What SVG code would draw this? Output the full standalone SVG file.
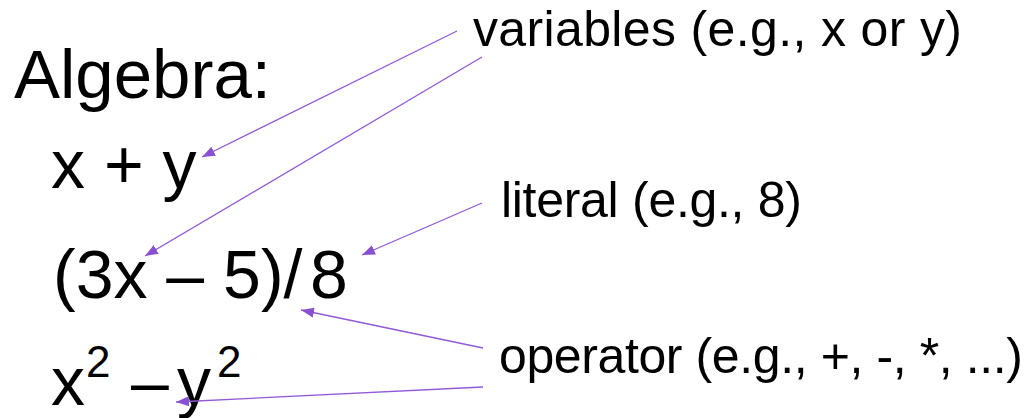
<svg xmlns="http://www.w3.org/2000/svg" width="1036" height="418" viewBox="0 0 1036 418">
  <style>
    .expr { font-family: "Liberation Sans", Arial, sans-serif; font-size: 68px; fill: #000; }
    .note { font-family: "Liberation Sans", Arial, sans-serif; font-size: 50px; fill: #000; }
    .sup { font-size: 44px; }
    .link { stroke: #9159d8; stroke-width: 1.3; fill: none; marker-end: url(#tip); }
  </style>
  <defs>
    <marker id="tip" markerUnits="userSpaceOnUse" markerWidth="14" markerHeight="10" refX="13" refY="5" orient="auto">
      <path d="M0,0 L13,5 L0,10 z" fill="#8a50d2"/>
    </marker>
  </defs>
  <rect width="1036" height="418" fill="#fff"/>

  <!-- expressions -->
  <g id="title"><text class="expr" x="14" y="98" style="font-size:69px">Algebra:</text></g>
  <g id="expr-sum"><text class="expr" x="51" y="188">x + y</text></g>
  <g id="expr-fraction"><text class="expr" x="53" y="298">(3x – 5)/<tspan x="310">8</tspan></text></g>
  <g id="expr-squares">
    <text class="expr" y="405"><tspan x="51">x</tspan><tspan class="sup" x="86" y="377">2</tspan><tspan x="131" y="405">–</tspan><tspan x="177">y</tspan><tspan class="sup" x="217" y="377">2</tspan></text>
  </g>

  <!-- annotations -->
  <g id="label-variables"><text class="note" x="473" y="46" textLength="489" lengthAdjust="spacing">variables (e.g., x or y)</text></g>
  <g id="label-literal"><text class="note" x="501" y="217" textLength="301" lengthAdjust="spacing">literal (e.g., 8)</text></g>
  <g id="label-operator"><text class="note" x="499" y="373" textLength="524" lengthAdjust="spacing">operator (e.g., +, -, *, ...)</text></g>

  <!-- connectors -->
  <g id="connectors">
    <line class="link" x1="457" y1="31" x2="202" y2="157"/>
    <line class="link" x1="482" y1="57" x2="145" y2="256"/>
    <line class="link" x1="482" y1="203" x2="362" y2="255"/>
    <line class="link" x1="483" y1="348" x2="301" y2="310"/>
    <line class="link" x1="483" y1="387" x2="176" y2="402"/>
  </g>
</svg>
